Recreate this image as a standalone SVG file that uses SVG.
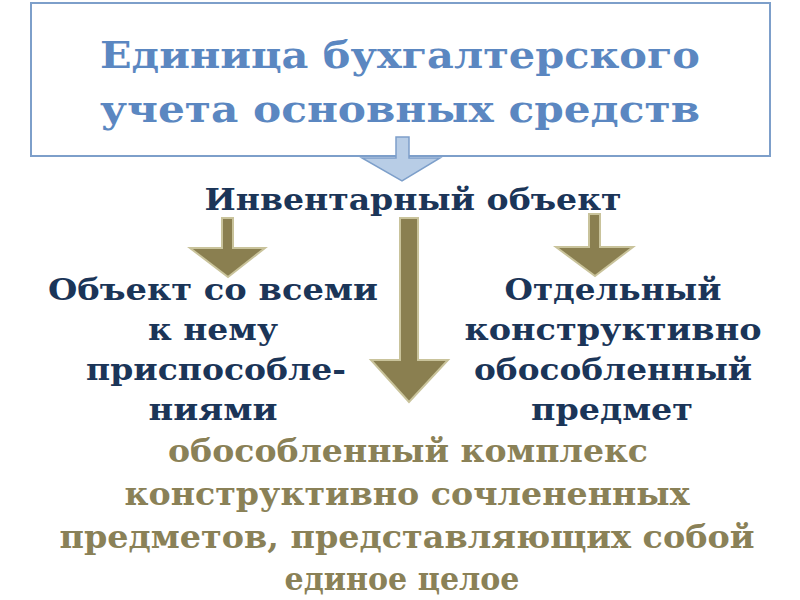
<svg xmlns="http://www.w3.org/2000/svg" width="800" height="600" viewBox="0 0 800 600">
<defs>
<style>
.t{font-family:"DejaVu Serif","Liberation Serif",serif;font-weight:bold;text-anchor:middle}
.title{fill:#5b87c1;font-size:38px}
.navy{fill:#1b3558;font-size:30px}
.olive{fill:#8a8157;font-size:32px}
.arr{fill:#8a7f50;stroke:#c9c39b;stroke-width:2}
.barr{fill:#b8cde6;stroke:#7d9fca;stroke-width:1.5}
</style>
</defs>
<rect width="800" height="600" fill="#ffffff"/>
<g id="title-node">
<rect x="31" y="3" width="739" height="153" fill="#ffffff" stroke="#7d9fca" stroke-width="2"/>
<text class="t title" x="400" y="68" textLength="600" lengthAdjust="spacingAndGlyphs">Единица бухгалтерского</text>
<text class="t title" x="400" y="122" textLength="600" lengthAdjust="spacingAndGlyphs">учета основных средств</text>
</g>
<g id="inventory-node">
<text class="t navy" x="413" y="210" textLength="417" lengthAdjust="spacingAndGlyphs">Инвентарный объект</text>
</g>
<g id="left-node">
<text class="t navy" x="213" y="300" textLength="330" lengthAdjust="spacingAndGlyphs">Объект со всеми</text>
<text class="t navy" x="213" y="340" textLength="130" lengthAdjust="spacingAndGlyphs">к нему</text>
<text class="t navy" x="216" y="380" textLength="260" lengthAdjust="spacingAndGlyphs">приспособле-</text>
<text class="t navy" x="213" y="420" textLength="129" lengthAdjust="spacingAndGlyphs">ниями</text>
</g>
<g id="right-node">
<text class="t navy" x="613" y="300" textLength="217" lengthAdjust="spacingAndGlyphs">Отдельный</text>
<text class="t navy" x="613" y="340" textLength="297" lengthAdjust="spacingAndGlyphs">конструктивно</text>
<text class="t navy" x="613" y="380" textLength="278" lengthAdjust="spacingAndGlyphs">обособленный</text>
<text class="t navy" x="612" y="420" textLength="162" lengthAdjust="spacingAndGlyphs">предмет</text>
</g>
<g id="bottom-node">
<text class="t olive" x="408" y="462" textLength="480" lengthAdjust="spacingAndGlyphs">обособленный комплекс</text>
<text class="t olive" x="407" y="505" textLength="565" lengthAdjust="spacingAndGlyphs">конструктивно сочлененных</text>
<text class="t olive" x="407" y="548" textLength="695" lengthAdjust="spacingAndGlyphs">предметов, представляющих собой</text>
<text class="t olive" x="402" y="590" textLength="235" lengthAdjust="spacingAndGlyphs">единое целое</text>
</g>
<g id="connectors">
<polygon class="barr" points="396,137 409,137 409,158 440,158 402,181 362,158 396,158"/>
<polygon class="arr" points="222,218 233,218 233,248 265,248 228,277 190,248 222,248"/>
<polygon class="arr" points="400,218 418,218 418,360 448,360 409,402 371,360 400,360"/>
<polygon class="arr" points="589,214 600,214 600,247 633,247 595,276 556,247 589,247"/>
</g>
</svg>
